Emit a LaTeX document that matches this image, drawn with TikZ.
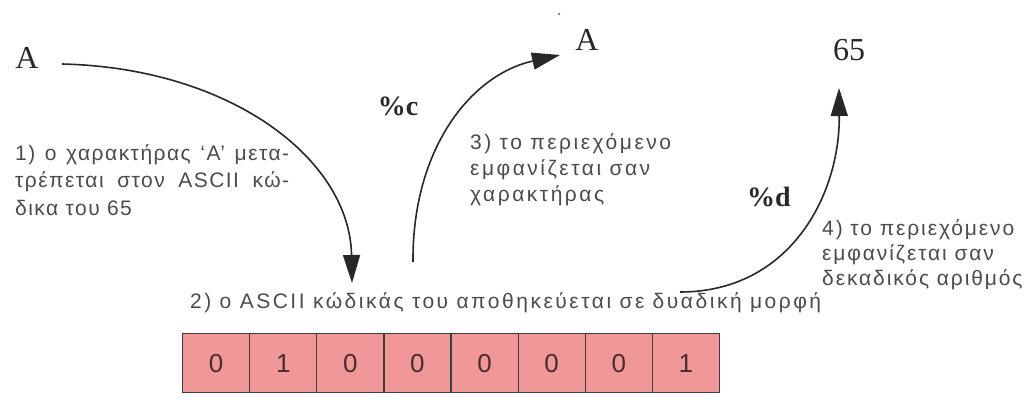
\documentclass[tikz,border=0pt]{standalone}
\usepackage{fontspec}
\setmainfont{Liberation Sans}
\newfontfamily\grk[LetterSpace=12]{Liberation Sans}
\newfontfamily\grkn[LetterSpace=7]{Liberation Sans}
\newfontfamily\grkm[LetterSpace=9]{Liberation Sans}
\newfontfamily\srf{Liberation Serif}
\usetikzlibrary{arrows.meta}
\definecolor{cellpink}{RGB}{240,152,152}
\definecolor{ink}{RGB}{40,40,40}
\definecolor{txt}{RGB}{75,75,75}
\definecolor{digit}{RGB}{75,45,45}
\begin{document}
\begin{tikzpicture}[x=1pt,y=-1pt,
  lbl/.style={font=\grk\fontsize{21}{26}\selectfont, text=txt, align=left, anchor=north west, inner sep=0pt},
  big/.style={font=\srf\fontsize{32}{32}\selectfont, text=ink, inner sep=0pt},
  fmt/.style={font=\srf\bfseries\fontsize{28}{28}\selectfont, text=ink, inner sep=0pt},
  flow/.style={-{Triangle[length=28pt,width=17pt]}, line width=1.6pt, draw=ink},
  cell/.style={draw=ink!90, line width=1.2pt, fill=cellpink, minimum width=67.1pt, minimum height=59pt, inner sep=0pt, font=\fontsize{26}{26}\selectfont, text=digit, anchor=north west}
]
\useasboundingbox (0,0) rectangle (1033,414);
% big characters
\node[big] (Aleft) at (27,58) {A};
\node[big] (Amid) at (587,40) {A};
\node[big] (n65) at (849,50) {65};
\fill[ink!60] (559,14) circle (1.3pt);
% format specifiers
\node[fmt] (pc) at (398,106) {\%c};
\node[fmt] (pd) at (769,197) {\%d};
% texts
\node[lbl, font=\grkn\fontsize{21}{27.5}\selectfont] (t1) at (15,144) {\makebox[274pt][s]{1) ο χαρακτήρας ‘Α’ μετα-}\\\makebox[274pt][s]{τρέπεται στον ASCII κώ-}\\δικα του 65};
\node[lbl] (t3) at (470,133) {3) το περιεχόμενο\\εμφανίζεται σαν\\χαρακτήρας};
\node[lbl, font=\grkm\fontsize{21}{25}\selectfont] (t4) at (822,219) {4) το περιεχόμενο\\εμφανίζεται σαν\\δεκαδικός αριθμός};
\node[lbl, anchor=west] (t2) at (190,303) {2) ο ASCII κώδικάς του αποθηκεύεται σε δυαδική μορφή};
% cells
\foreach \d [count=\i] in {0,1,0,0,0,0,0,1}
  \node[cell] (c\i) at ({182+67.1*(\i-1)},333) {\d};
% arrows
\coordinate (a1s) at (62,64);
\coordinate (a1e) at (352,283);
\coordinate (a3s) at (413,262);
\coordinate (a3e) at (560,55);
\coordinate (a4s) at (680,292);
\coordinate (a4e) at (839,88);
\draw[flow] (a1s) .. controls (232,68) and (350,160) .. (a1e);
\draw[flow] (a3s) .. controls (412,150) and (470,75) .. (a3e);
\draw[flow] (a4s) .. controls (790,292) and (840,195) .. (a4e);
\end{tikzpicture}
\end{document}
